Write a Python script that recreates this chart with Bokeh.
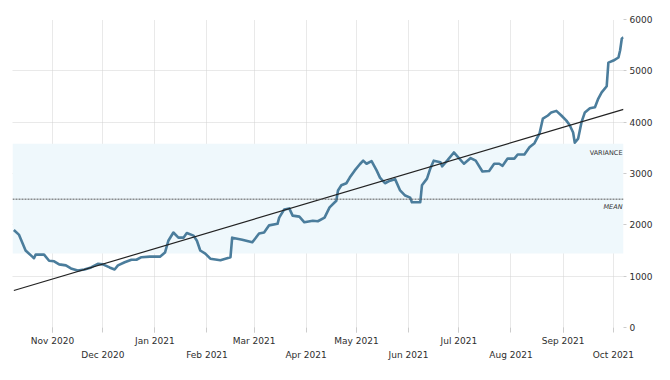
import pandas as pd
from bokeh.plotting import figure
from bokeh.models import (FixedTicker, DatetimeAxis, DatetimeTickFormatter, Range1d,
                          BoxAnnotation, Span, Label)
from bokeh.embed import file_html
from bokeh.resources import INLINE

# ---------------- data ----------------
dates = [
    "2020-10-09", "2020-10-12", "2020-10-16", "2020-10-20", "2020-10-21", "2020-10-22",
    "2020-10-27", "2020-10-30", "2020-11-02", "2020-11-05", "2020-11-09", "2020-11-12",
    "2020-11-16", "2020-11-20", "2020-11-24", "2020-11-28", "2020-12-01", "2020-12-05",
    "2020-12-08", "2020-12-10", "2020-12-14", "2020-12-18", "2020-12-21", "2020-12-24",
    "2020-12-29", "2021-01-04", "2021-01-07", "2021-01-09", "2021-01-12", "2021-01-15",
    "2021-01-18", "2021-01-20", "2021-01-24", "2021-01-26", "2021-01-28", "2021-01-31",
    "2021-02-03", "2021-02-09", "2021-02-15", "2021-02-16", "2021-02-19", "2021-02-22",
    "2021-02-28", "2021-03-04", "2021-03-07", "2021-03-10", "2021-03-15", "2021-03-16",
    "2021-03-19", "2021-03-22", "2021-03-24", "2021-03-28", "2021-03-31", "2021-04-05",
    "2021-04-08", "2021-04-12", "2021-04-15", "2021-04-19", "2021-04-20", "2021-04-22",
    "2021-04-25", "2021-04-27", "2021-04-30", "2021-05-03", "2021-05-05", "2021-05-07",
    "2021-05-10", "2021-05-13", "2021-05-15", "2021-05-18", "2021-05-21", "2021-05-24",
    "2021-05-27", "2021-05-30", "2021-06-02", "2021-06-03", "2021-06-08", "2021-06-09",
    "2021-06-12", "2021-06-14", "2021-06-16", "2021-06-20", "2021-06-21", "2021-06-24",
    "2021-06-28", "2021-07-01", "2021-07-04", "2021-07-08", "2021-07-11", "2021-07-15",
    "2021-07-19", "2021-07-22", "2021-07-25", "2021-07-27", "2021-07-30", "2021-08-03",
    "2021-08-05", "2021-08-09", "2021-08-12", "2021-08-15", "2021-08-18", "2021-08-20",
    "2021-08-23", "2021-08-25", "2021-08-28", "2021-08-31", "2021-09-03", "2021-09-05",
    "2021-09-07", "2021-09-08", "2021-09-10", "2021-09-12", "2021-09-14", "2021-09-17",
    "2021-09-20", "2021-09-22", "2021-09-24", "2021-09-27", "2021-09-28", "2021-10-01",
    "2021-10-04", "2021-10-05", "2021-10-06", "2021-10-07",
]
values = [
    1900, 1810, 1500, 1380, 1350, 1420,
    1420, 1300, 1290, 1230, 1210, 1150,
    1110, 1130, 1170, 1240, 1230, 1170,
    1130, 1210, 1270, 1320, 1320, 1370,
    1380, 1380, 1460, 1690, 1850, 1750,
    1750, 1840, 1790, 1690, 1500, 1440,
    1340, 1310, 1370, 1750, 1730, 1710,
    1660, 1830, 1850, 1990, 2020, 2140,
    2300, 2320, 2180, 2160, 2050, 2080,
    2070, 2140, 2340, 2470, 2670, 2770,
    2810, 2920, 3060, 3180, 3250, 3190,
    3240, 3060, 2920, 2810, 2860, 2890,
    2670, 2570, 2530, 2440, 2440, 2770,
    2900, 3100, 3250, 3220, 3140, 3250,
    3410, 3300, 3190, 3300, 3250, 3040,
    3050, 3190, 3190, 3150, 3290, 3290,
    3370, 3370, 3510, 3590, 3780, 4070,
    4130, 4190, 4220, 4130, 4030, 3940,
    3800, 3600, 3680, 4000, 4190, 4270,
    4290, 4460, 4580, 4700, 5160, 5200,
    5260, 5400, 5630, 5650,
]
trend_dates = ["2020-10-09", "2021-10-07"]
trend_values = [720, 4250]
mean_value = 2500
variance_low = 1440
variance_high = 3580
upper_labels = ["Nov 2020", "Jan 2021", "Mar 2021", "May 2021", "Jul 2021", "Sep 2021"]
lower_labels = ["Dec 2020", "Feb 2021", "Apr 2021", "Jun 2021", "Aug 2021", "Oct 2021"]
y_ticks = [0, 1000, 2000, 3000, 4000, 5000, 6000]

# ---------------- helpers ----------------
def ms(s, fmt=None):
    return int(pd.to_datetime(s, format=fmt).value // 10**6)

x = pd.to_datetime(dates)
upper_ms = [ms(l, "%b %Y") for l in upper_labels]
lower_ms = [ms(l, "%b %Y") for l in lower_labels]
all_ms = sorted(upper_ms + lower_ms)

FONT = "DejaVu Sans"
LABEL_COLOR = "#2e2e2e"
fmt = DatetimeTickFormatter(days="%b %Y", months="%b %Y", years="%b %Y",
                            hours="%b %Y", minutes="%b %Y")

p = figure(x_axis_type="datetime", y_axis_location="right",
           frame_width=611, frame_height=308,
           x_range=Range1d(pd.Timestamp("2020-10-08 05:00"), pd.Timestamp("2021-10-07")),
           y_range=Range1d(0, 6000),
           output_backend="svg", toolbar_location=None,
           min_border_left=12, min_border_top=19, min_border_right=4, min_border_bottom=4,
           background_fill_color="white", border_fill_color="white")
p.outline_line_color = None

# variance band & mean
p.add_layout(BoxAnnotation(bottom=variance_low, top=variance_high,
                           fill_color="#eff8fc", fill_alpha=1.0, line_color=None,
                           level="underlay"))
p.add_layout(Span(location=mean_value, dimension="width", line_color="#555555",
                  line_width=1, line_dash="2 1"))

# grids
p.xgrid.ticker = FixedTicker(ticks=all_ms)
p.ygrid.ticker = FixedTicker(ticks=y_ticks)
for g in (p.xgrid, p.ygrid):
    g.grid_line_color = "#d2d2d2"
    g.grid_line_dash = "1 1"
    g.grid_line_width = 1

# series
p.line(x, values, line_color="#4b7d9c", line_width=2.6, line_join="round")
p.line(pd.to_datetime(trend_dates), trend_values, line_color="#222222", line_width=1.2)

# labels
p.add_layout(Label(x=p.x_range.end, y=variance_high, text="VARIANCE",
                   text_align="right", text_baseline="top", x_offset=-1, y_offset=-5,
                   text_font=FONT, text_font_size="6.5px", text_color="#333333"))
p.add_layout(Label(x=p.x_range.end, y=mean_value, text="MEAN",
                   text_align="right", text_baseline="top", x_offset=-1, y_offset=-4,
                   text_font=FONT, text_font_size="6.5px", text_font_style="italic",
                   text_color="#333333"))

# x axes (two rows)
ax1 = p.xaxis[0]
ax1.ticker = FixedTicker(ticks=upper_ms, minor_ticks=all_ms)
ax1.formatter = fmt
ax1.axis_line_color = None
ax1.major_tick_line_color = "#cccccc"
ax1.minor_tick_line_color = "#cccccc"
ax1.major_tick_out = 5
ax1.major_tick_in = 0
ax1.minor_tick_out = 5
ax1.minor_tick_in = 0
ax1.major_label_standoff = 3

ax2 = DatetimeAxis(ticker=FixedTicker(ticks=lower_ms, minor_ticks=[]), formatter=fmt)
ax2.axis_line_color = None
ax2.major_tick_line_color = None
ax2.minor_tick_line_color = None
ax2.major_tick_out = 0
ax2.major_tick_in = 0
ax2.major_label_standoff = 1
p.add_layout(ax2, "below")

for ax in (ax1, ax2):
    ax.major_label_text_font = FONT
    ax.major_label_text_font_size = "9px"
    ax.major_label_text_color = LABEL_COLOR

# y axis
ya = p.yaxis[0]
ya.ticker = FixedTicker(ticks=y_ticks)
ya.axis_line_color = None
ya.major_tick_line_color = "#cccccc"
ya.major_tick_out = 3
ya.major_tick_in = 0
ya.minor_tick_line_color = None
ya.major_label_standoff = 3
ya.major_label_text_font = FONT
ya.major_label_text_font_size = "9px"
ya.major_label_text_color = LABEL_COLOR

open("out.html", "w").write(file_html(p, INLINE))
